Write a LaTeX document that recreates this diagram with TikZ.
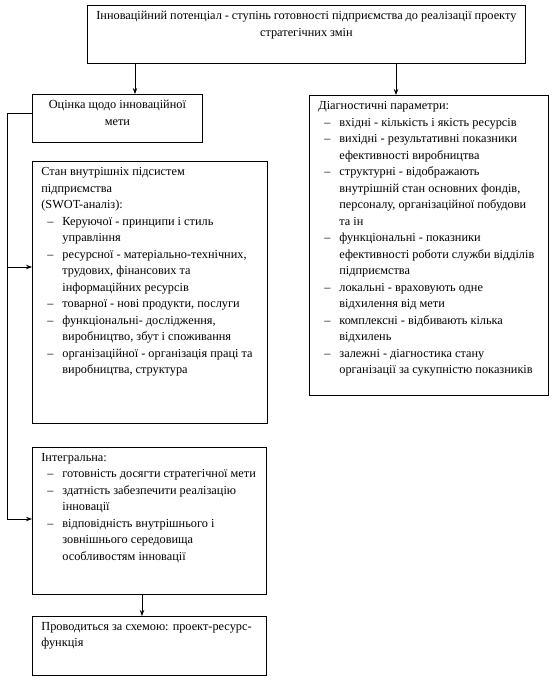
\documentclass[tikz,border=0pt]{standalone}
\usepackage{fontspec}
\setmainfont{Liberation Serif}
\usetikzlibrary{arrows.meta, positioning, calc}

% list line with a dash and hanging indent
\newcommand\itm[1]{\par\hangindent=21pt\hangafter=1\noindent\hbox to 21pt{\hspace{6pt}–\hfil}#1}
% text block of fixed size, set from the top
\newcommand\blktxt[3]{\parbox[c][#2][t]{#1}{\raggedright #3}}

\begin{document}
\begin{tikzpicture}[x=1pt, y=-1pt,
  font=\fontsize{12.3}{16.5}\selectfont,
  blk/.style={draw, line width=0.8pt, anchor=north west, inner xsep=9pt, inner ysep=6pt},
  arr/.style={-{Stealth[length=6pt, width=4.5pt]}, line width=0.8pt}]
  \useasboundingbox (0,0) rectangle (553,680);

  \node[blk] (top) at (87,5) {\parbox[c][46pt][t]{420pt}{\centering
    Інноваційний потенціал - ступінь готовності підприємства до реалізації проекту\\
    стратегічних змін}};
  \node[blk] (eval) at (32,94) {\parbox[c][36pt][t]{152pt}{\centering
    Оцінка щодо інноваційної\\ мети}};
  \node[blk] (swot) at (32,161) {\blktxt{217pt}{250pt}{%
    Стан внутрішніх підсистем\newline підприємства\newline (SWOT-аналіз):
    \itm{Керуючої - принципи і стиль\newline управління}
    \itm{ресурсної - матеріально-технічних,\newline трудових, фінансових та\newline інформаційних ресурсів}
    \itm{товарної - нові продукти, послуги}
    \itm{функціональні- дослідження,\newline виробництво, збут і споживання}
    \itm{організаційної - організація праці та\newline виробництва, структура}}};
  \node[blk] (integ) at (32,447) {\blktxt{216pt}{135pt}{%
    Інтегральна:
    \itm{готовність досягти стратегічної мети}
    \itm{здатність забезпечити реалізацію\newline інновації}
    \itm{відповідність внутрішнього і\newline зовнішнього середовища\newline особливостям інновації}}};
  \node[blk] (fin) at (32,616) {\blktxt{216pt}{47pt}{%
    Проводиться за схемою: проект-ресурс-\newline функція}};
  \node[blk] (diag) at (309,95) {\blktxt{221pt}{288pt}{%
    Діагностичні параметри:
    \itm{вхідні - кількість і якість ресурсів}
    \itm{вихідні - результативні показники\newline ефективності виробництва}
    \itm{структурні - відображають\newline внутрішній стан основних фондів,\newline персоналу, організаційної побудови\newline та ін}
    \itm{функціональні - показники\newline ефективності роботи служби відділів\newline підприємства}
    \itm{локальні - враховують одне\newline відхилення від мети}
    \itm{комплексні - відбивають кілька\newline відхилень}
    \itm{залежні - діагностика стану\newline організації за сукупністю показників}}};

  % arrows from the top box
  \coordinate (tl) at ($(top.south west)+(48,0)$);
  \coordinate (tr) at ($(top.south west)+(309,0)$);
  \draw[arr] (tl) -- (tl |- eval.north);
  \draw[arr] (tr) -- (tr |- diag.north);

  % left bracket
  \coordinate (bx) at (7,0);
  \coordinate (e0) at ($(eval.north west)+(0,19)$);
  \coordinate (s0) at ($(swot.north west)+(0,106)$);
  \coordinate (i0) at ($(integ.north west)+(0,72)$);
  \draw[arr] (e0) -- (e0 -| bx) |- (i0);
  \draw[arr] (s0 -| bx) -- (s0);

  \coordinate (f0) at ($(integ.south west)+(110,0)$);
  \draw[arr] (f0) -- (f0 |- fin.north);
\end{tikzpicture}
\end{document}
